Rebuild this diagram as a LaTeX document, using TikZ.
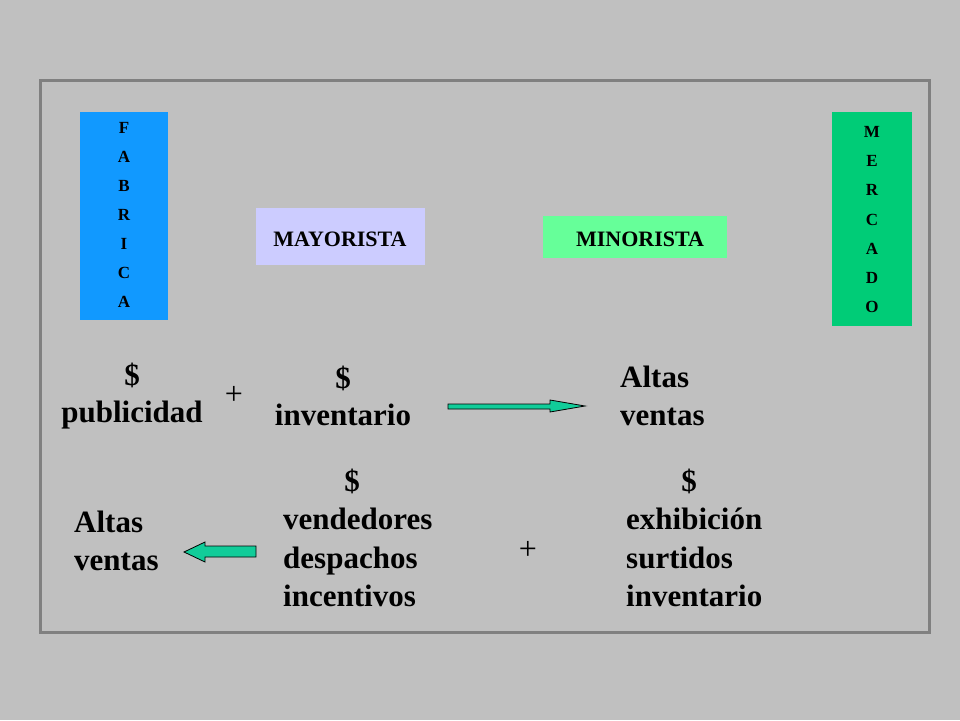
\documentclass[tikz,border=0pt]{standalone}
\usepackage{fontspec}
\setmainfont{Liberation Serif}
\usetikzlibrary{positioning}
\definecolor{bgGray}{HTML}{C0C0C0}
\definecolor{frameGray}{HTML}{808080}
\definecolor{fabBlue}{HTML}{1199FF}
\definecolor{merGreen}{HTML}{00CC77}
\definecolor{mayLila}{HTML}{CCCCFF}
\definecolor{minGreen}{HTML}{66FF99}
\definecolor{arrGreen}{HTML}{11CC99}
\tikzset{
  letra/.style={font=\fontsize{17}{17}\bfseries\selectfont, inner sep=0pt},
  grande/.style={font=\fontsize{31}{38.5}\bfseries\selectfont, inner sep=0pt, align=left},
  centro/.style={font=\fontsize{31}{37}\bfseries\selectfont, inner sep=0pt, align=center},
  mas/.style={font=\fontsize{32}{32}\selectfont, inner sep=0pt},
  etiqueta/.style={font=\fontsize{22}{22}\bfseries\selectfont, inner sep=0pt},
  flecha/.style={draw=black, line width=0.8pt, fill=arrGreen}
}
\begin{document}
\begin{tikzpicture}[x=1pt,y=-1pt]
	\fill[bgGray] (0,0) rectangle (960,720);
	\useasboundingbox (0,0) rectangle (960,720);
	\draw[frameGray, line width=3pt] (40,80) rectangle (929,632);
	% cajas laterales
	\fill[fabBlue] (80,112) rectangle (168,320);
	\fill[merGreen] (832,112) rectangle (912,326);
	\foreach \l [count=\i] in {F,A,B,R,I,C,A}
		\node[letra] (fab\i) at (124,128+29*\i-29) {\l};
	\foreach \l [count=\i] in {M,E,R,C,A,D,O}
		\node[letra] (mer\i) at (872,132+29.2*\i-29.2) {\l};
	% intermediarios
	\fill[mayLila] (256,208) rectangle (425,265);
	\node[etiqueta] (mayorista) at (340,239) {MAYORISTA};
	\fill[minGreen] (543,216) rectangle (727,258);
	\node[etiqueta] (minorista) at (640,239) {MINORISTA};
	% primera fila
	\node[centro] (publicidad) at (132,396) {\$\\publicidad};
	\node[mas] (mas1) at (234,395) {+};
	\node[centro] (inventario) at (343,396) {\$\\inventario};
	\node[grande, anchor=west] (ventas1) at (620,396) {Altas\\ventas};
	\draw[flecha] (448,404) -- (550,404) -- (550,400) -- (585,406) -- (550,412) -- (550,409) -- (448,409) -- cycle;
	% segunda fila
	\node[grande] (dolar2) at (352,481) {\$};
	\node[grande, anchor=north west] (vendedores) at (283,508) {vendedores\\despachos\\incentivos};
	\node[mas] (mas2) at (528,550) {+};
	\node[grande] (dolar3) at (689,481) {\$};
	\node[grande, anchor=north west] (exhibicion) at (626,508) {exhibición\\surtidos\\inventario};
	\node[grande, anchor=west] (ventas2) at (74,541) {Altas\\ventas};
	\draw[flecha] (256,546) -- (205,546) -- (205,542) -- (184,552) -- (205,562) -- (205,557) -- (256,557) -- cycle;
\end{tikzpicture}
\end{document}
